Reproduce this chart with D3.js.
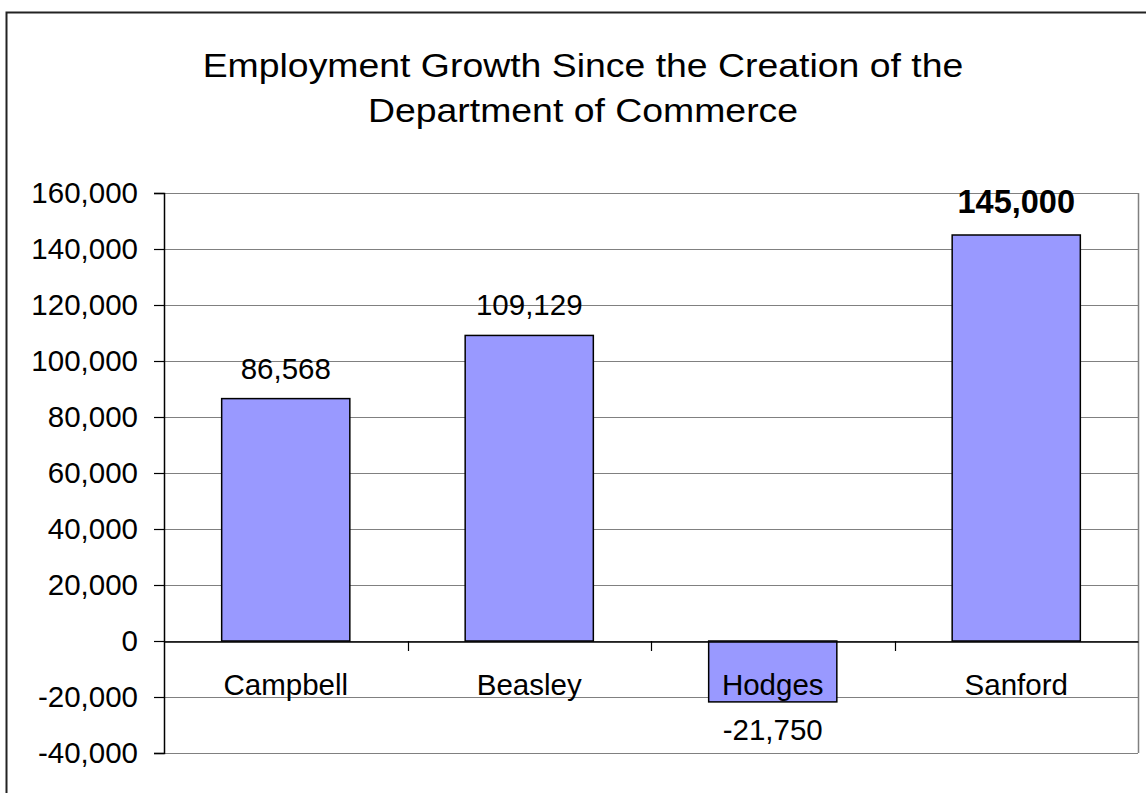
<!DOCTYPE html>
<html>
<head>
<meta charset="utf-8">
<script src="https://cdn.jsdelivr.net/npm/d3@7"></script>
<style>
  html, body { margin: 0; padding: 0; background: #fff; }
  svg { display: block; font-family: "Liberation Sans", Arial, sans-serif; }
</style>
</head>
<body>
<svg id="chart" width="1146" height="793"></svg>
<script>
// Employment growth by governor's term
const categories = ["Campbell", "Beasley", "Hodges", "Sanford"];
const values = [86568, 109129, -21750, 145000];
const highlighted = [false, false, false, true];
const yTicks = [-40000, -20000, 0, 20000, 40000, 60000, 80000, 100000, 120000, 140000, 160000];
const titleLines = ["Employment Growth Since the Creation of the", "Department of Commerce"];

const W = 1146, H = 793;
const plot = { left: 164, right: 1138, top: 193, bottom: 753 };
const svg = d3.select("#chart");
const locale = d3.formatLocale({ decimal: ".", thousands: ",", grouping: [3], currency: ["$", ""], minus: "-" });
const fmt = locale.format(",");
const FONT = "Liberation Sans, Arial, sans-serif";

// outer frame, running off the right and bottom edges
svg.append("rect")
  .attr("x", 6.5).attr("y", 12.5)
  .attr("width", W + 20).attr("height", H + 20)
  .attr("fill", "none").attr("stroke", "#222").attr("stroke-width", 2);

// title, set slightly wide
const title = svg.append("g")
  .attr("transform", "translate(583,0) scale(1.1,1)")
  .append("text")
  .attr("text-anchor", "middle")
  .attr("font-size", 34)
  .attr("fill", "#000");
titleLines.forEach((t, i) => {
  title.append("tspan").attr("x", 0).attr("y", 77 + i * 45).text(t);
});

const y = d3.scaleLinear().domain([-40000, 160000]).range([plot.bottom, plot.top]);
const x = d3.scaleBand().domain(categories).range([plot.left, plot.right])
  .paddingInner(0.9 / 1.9).paddingOuter(0.45 / 1.9);
const xBand = d3.scaleBand().domain(categories).range([plot.left, plot.right]);

// gridlines
svg.append("g")
  .selectAll("line")
  .data(yTicks)
  .join("line")
  .attr("x1", plot.left).attr("x2", plot.right)
  .attr("y1", d => Math.round(y(d)) + 0.5).attr("y2", d => Math.round(y(d)) + 0.5)
  .attr("stroke", "#808080").attr("stroke-width", 1);

// right plot border
svg.append("line")
  .attr("x1", plot.right + 0.5).attr("x2", plot.right + 0.5)
  .attr("y1", plot.top).attr("y2", plot.bottom)
  .attr("stroke", "#808080").attr("stroke-width", 1.5);

// value axis
const yAxis = d3.axisLeft(y).tickValues(yTicks).tickSize(10).tickPadding(16).tickFormat(fmt);
const gy = svg.append("g")
  .attr("transform", `translate(${plot.left},0)`)
  .call(yAxis);
gy.select(".domain").attr("stroke", "#000").attr("stroke-width", 1.5);
gy.selectAll(".tick line").attr("stroke", "#000").attr("stroke-width", 1.2);
gy.selectAll(".tick text")
  .attr("font-size", 29.5).attr("fill", "#000")
  .attr("font-family", FONT)
  .attr("dy", "0.33em");

// bars
svg.append("g")
  .selectAll("rect")
  .data(categories.map((c, i) => ({ c, v: values[i] })))
  .join("rect")
  .attr("x", d => x(d.c))
  .attr("width", x.bandwidth())
  .attr("y", d => y(Math.max(0, d.v)))
  .attr("height", d => Math.abs(y(d.v) - y(0)))
  .attr("fill", "#9999FF")
  .attr("stroke", "#000").attr("stroke-width", 1.5);

// category axis at zero
const xAxis = d3.axisBottom(xBand).tickSize(0).tickPadding(0);
const gx = svg.append("g")
  .attr("transform", `translate(0,${Math.round(y(0)) + 0.5})`)
  .call(xAxis);
gx.select(".domain").attr("stroke", "#000").attr("stroke-width", 1.5);
gx.selectAll(".tick text")
  .attr("font-size", 29.5).attr("fill", "#000")
  .attr("font-family", FONT)
  .attr("y", 53).attr("dy", 0);

// category separators below the axis
const seps = categories.slice(1).map(c => xBand(c));
svg.append("g")
  .selectAll("line")
  .data(seps)
  .join("line")
  .attr("x1", d => Math.round(d) + 0.5).attr("x2", d => Math.round(d) + 0.5)
  .attr("y1", Math.round(y(0))).attr("y2", Math.round(y(0)) + 10)
  .attr("stroke", "#000").attr("stroke-width", 1.2);

// value labels
svg.append("g")
  .selectAll("text")
  .data(categories.map((c, i) => ({ c, v: values[i], bold: highlighted[i] })))
  .join("text")
  .attr("x", d => x(d.c) + x.bandwidth() / 2)
  .attr("y", d => d.v >= 0 ? y(d.v) - (d.bold ? 22 : 20) : y(d.v) + 38)
  .attr("text-anchor", "middle")
  .attr("font-size", d => d.bold ? 32.5 : 29.5)
  .attr("font-weight", d => d.bold ? "bold" : "normal")
  .attr("fill", "#000")
  .text(d => fmt(d.v));
</script>
</body>
</html>
